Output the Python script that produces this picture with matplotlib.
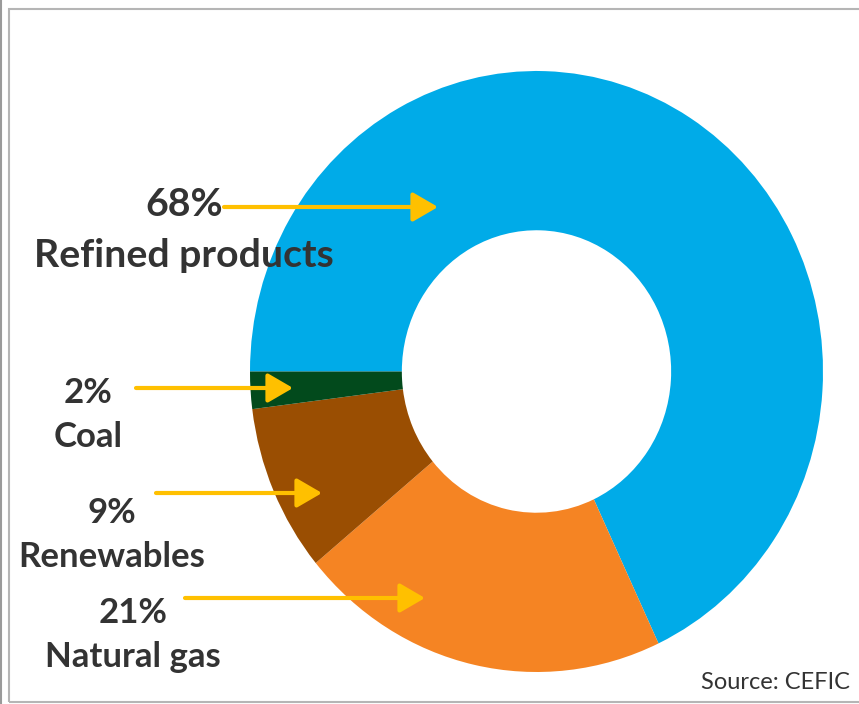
import matplotlib
matplotlib.use("Agg")
import matplotlib.pyplot as plt
from matplotlib.patches import Rectangle, FancyArrowPatch
from matplotlib.lines import Line2D

# ---------------------------------------------------------------------------
# Data
# ---------------------------------------------------------------------------
sources = ["Refined products", "Natural gas", "Renewables", "Coal"]
shares = [68, 21, 9, 2]
colors = ["#00ABE8", "#F58423", "#9A4E02", "#024A1C"]

label_pct = ["68%", "21%", "9%", "2%"]
label_name = ["Refined products", "Natural gas", "Renewables", "Coal"]

W, H = 859, 704
TEXT = "#333333"
ARROW = "#FFC000"


def fx(px):
    return px / W


def fy(py):
    return 1 - py / H


fig = plt.figure(figsize=(W / 100, H / 100), dpi=100)
fig.patch.set_facecolor("white")

# donut axes: x range [-1, 1] -> 250..823 px, y range -> 71..672 px
ax = fig.add_axes([fx(250), fy(672), (823 - 250) / W, (672 - 71) / H])
ax.pie(shares, colors=colors, startangle=180, counterclock=False,
       radius=1.0, wedgeprops=dict(width=0.53, linewidth=0))
ax.set_aspect("auto")
ax.set_xlim(-1, 1)
ax.set_ylim(-1, 1)
ax.axis("off")

font = dict(family=["Lato", "DejaVu Sans"], weight="bold", color=TEXT)

# --- labels ----------------------------------------------------------------
# (percent text, name text, center x, percent baseline, name baseline, size)
layout = [
    (label_pct[0], label_name[0], 184, 216, 267, 28.3),
    (label_pct[1], label_name[1], 133, 623, 667, 25),
    (label_pct[2], label_name[2], 112, 523, 567, 25),
    (label_pct[3], label_name[3], 88, 403, 447, 25),
]
for pct, name, cx, yb1, yb2, size in layout:
    fig.text(fx(cx), fy(yb1), pct, ha="center", va="baseline",
             fontsize=size, **font)
    fig.text(fx(cx), fy(yb2), name, ha="center", va="baseline",
             fontsize=size, **font)

# --- arrows (x0, x1, y) ------------------------------------------------------
arrows = [(224, 438, 207), (185, 425, 598), (156, 322, 493), (136, 293, 388)]
for x0, x1, y in arrows:
    fig.patches.append(
        FancyArrowPatch(
            (fx(x0), fy(y)), (fx(x1), fy(y)), transform=fig.transFigure,
            arrowstyle="-|>,head_length=0.55,head_width=0.32",
            mutation_scale=28, color=ARROW, linewidth=3,
            shrinkA=0, shrinkB=0,
        )
    )

fig.text(fx(850), fy(689), "Source: CEFIC", ha="right", va="baseline",
         fontsize=17, color=TEXT, family=["Lato", "DejaVu Sans"])

# --- frame around the picture ----------------------------------------------
fig.patches.append(Rectangle((fx(9), fy(702)), fx(900), (702 - 9) / H,
                             transform=fig.transFigure, fill=False,
                             edgecolor="#B5B5B5", linewidth=1.5))
fig.lines.append(Line2D([fx(1), fx(1)], [0, 1], transform=fig.transFigure,
                        color="#9A9A9A", linewidth=1.5))

fig.savefig("out.png", dpi=100, facecolor="white")
